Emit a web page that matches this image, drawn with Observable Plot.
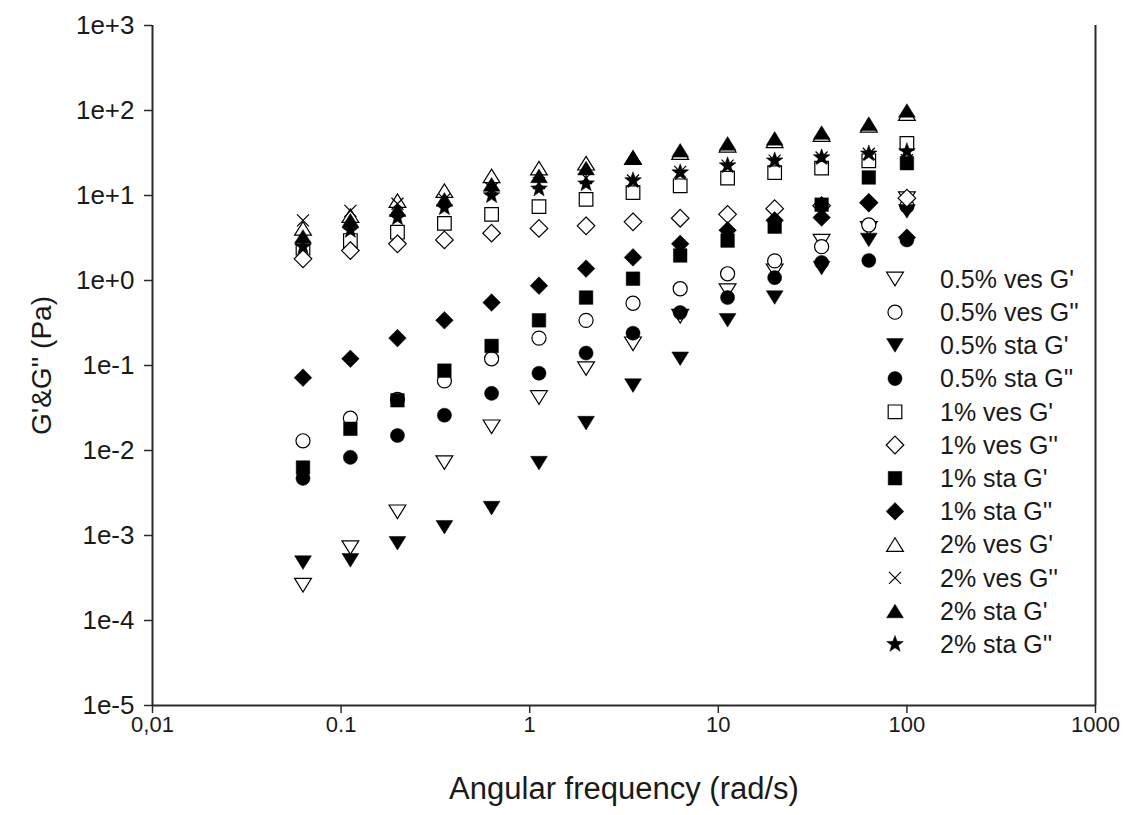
<!DOCTYPE html>
<html><head><meta charset="utf-8">
<script src="https://cdn.jsdelivr.net/npm/d3@7"></script>
<script src="https://cdn.jsdelivr.net/npm/@observablehq/plot@0.6"></script>
<style>
body{margin:0;background:#fff;}
#wrap{position:relative;width:1126px;height:815px;}
</style></head><body><div id="wrap"></div>
<script>
// ---- data ----
const freq = [0.0628, 0.112, 0.199, 0.353, 0.628, 1.12, 1.99, 3.53, 6.28, 11.2, 19.9, 35.3, 62.8, 100];
const seriesNames = ["0.5% ves G'", "0.5% ves G''", "0.5% sta G'", "0.5% sta G''", "1% ves G'", "1% ves G''", "1% sta G'", "1% sta G''", "2% ves G'", "2% ves G''", "2% sta G'", "2% sta G''"];
const ves05G1 = [2.6e-4, 7.2e-4, 1.9e-3, 7.2e-3, 0.019, 0.042, 0.092, 0.18, 0.38, 0.76, 1.3, 2.9, 4.1, 9.2];
const ves05G2 = [0.013, 0.024, 0.04, 0.066, 0.12, 0.21, 0.34, 0.54, 0.8, 1.2, 1.7, 2.5, 4.5, 7.5];
const sta05G1 = [4.8e-4, 5.1e-4, 8.1e-4, 1.25e-3, 2.1e-3, 7.1e-3, 0.021, 0.058, 0.12, 0.34, 0.63, 1.4, 3.0, 6.5];
const sta05G2 = [0.0047, 0.0083, 0.015, 0.026, 0.047, 0.081, 0.14, 0.24, 0.42, 0.63, 1.08, 1.63, 1.72, 3.0];
const ves1G1 = [2.4, 2.95, 3.7, 4.7, 6.0, 7.4, 9.0, 10.8, 13, 16, 18.6, 21, 25.6, 41];
const ves1G2 = [1.8, 2.25, 2.7, 3.0, 3.6, 4.1, 4.4, 4.9, 5.4, 6.0, 7.0, 7.6, 8.2, 9.3];
const sta1G1 = [0.0063, 0.018, 0.039, 0.087, 0.17, 0.34, 0.63, 1.05, 1.97, 2.95, 4.3, 7.8, 16.3, 24];
const sta1G2 = [0.072, 0.12, 0.21, 0.34, 0.55, 0.87, 1.38, 1.87, 2.7, 3.9, 5.1, 5.5, 8.3, 3.2];
const ves2G1 = [4.1, 5.8, 8.7, 11.4, 17, 21, 24, 28, 32, 39, 44, 52, 67, 92];
const ves2G2 = [5.1, 6.6, 8.0, 9, 12, 14, 16, 15, 19, 22.5, 25.7, 28, 31, 26];
const sta2G1 = [3.3, 5.1, 6.8, 9, 13.5, 17, 21, 28, 34, 41, 47, 55, 70, 100];
const sta2G2 = [2.5, 3.9, 5.5, 7.2, 10, 12, 13.8, 15, 18.6, 22.5, 25.7, 28, 31, 33];

const xTickValues = [0.01, 0.1, 1, 10, 100, 1000];
const xTickLabels = ["0,01", "0.1", "1", "10", "100", "1000"];
const yTickValues = [1e-5, 1e-4, 1e-3, 1e-2, 1e-1, 1e0, 1e1, 1e2, 1e3];
const yTickLabels = ["1e-5", "1e-4", "1e-3", "1e-2", "1e-1", "1e+0", "1e+1", "1e+2", "1e+3"];
const xTitle = "Angular frequency (rad/s)";
const yTitle = "G'&G'' (Pa)";

// ---- symbols ----
function mk(fn){ return {draw(ctx, size){ const r = Math.sqrt(size/Math.PI); fn(ctx, r); }}; }
const symTriDown = mk((c,r)=>{const w=1.05*r,h=0.85*r; c.moveTo(-w,-h); c.lineTo(w,-h); c.lineTo(0,h); c.closePath();});
const symTriUp = mk((c,r)=>{const w=1.05*r,h=0.85*r; c.moveTo(-w,h); c.lineTo(w,h); c.lineTo(0,-h); c.closePath();});
const symCircle = mk((c,r)=>{const a=0.88*r; c.moveTo(a,0); c.arc(0,0,a,0,2*Math.PI); c.closePath();});
const symSquare = mk((c,r)=>{const a=0.85*r; c.rect(-a,-a,2*a,2*a);});
const symDiamond = mk((c,r)=>{const a=1.1*r; c.moveTo(0,-a); c.lineTo(a,0); c.lineTo(0,a); c.lineTo(-a,0); c.closePath();});
const symTimes = mk((c,r)=>{const a=0.75*r; c.moveTo(-a,-a); c.lineTo(a,a); c.moveTo(a,-a); c.lineTo(-a,a);});
const symStar = mk((c,r)=>{const R1=1.1*r, R2=0.45*r; for(let i=0;i<10;i++){const rr=i%2?R2:R1; const a=-Math.PI/2+i*Math.PI/5; const px=rr*Math.cos(a), py=rr*Math.sin(a); if(i===0) c.moveTo(px,py); else c.lineTo(px,py);} c.closePath();});

const seriesValues = [ves05G1, ves05G2, sta05G1, sta05G2, ves1G1, ves1G2, sta1G1, sta1G2, ves2G1, ves2G2, sta2G1, sta2G2];
const seriesSymbols = [symTriDown, symCircle, symTriDown, symCircle, symSquare, symDiamond, symSquare, symDiamond, symTriUp, symTimes, symTriUp, symStar];
const seriesStyle = ["open","open","filled","filled","open","open","filled","filled","open","line","filled","filled"];

const R = 8;
function styleOf(k){
  if (k==="open") return {fill:"white", stroke:"black", strokeWidth:1.2};
  if (k==="filled") return {fill:"black", stroke:"black", strokeWidth:0.5};
  return {fill:"none", stroke:"black", strokeWidth:1.2};
}

const dotMarks = seriesValues.map((vals, si) => {
  const rows = freq.map((f, i) => ({x: f, y: vals[i], s: seriesNames[si]}));
  return Plot.dot(rows, {x:"x", y:"y", r:R, symbol: seriesSymbols[si], ...styleOf(seriesStyle[si])});
});

const xLab = new Map(xTickValues.map((v,i)=>[v, xTickLabels[i]]));
const yLab = new Map(yTickValues.map((v,i)=>[v, yTickLabels[i]]));
const axisColor = "#2a2a2a";
const textColor = "#1a1a1a";

const chart = Plot.plot({
  width:1126, height:815,
  marginLeft:152, marginRight:31, marginTop:25, marginBottom:110,
  x:{type:"log", domain:[0.01,1000]},
  y:{type:"log", domain:[1e-5,1e3]},
  style:{fontFamily:"'Liberation Sans', Arial, sans-serif", fontSize:"22px", color:textColor, background:"#fff", overflow:"visible"},
  marks:[
    Plot.axisX(xTickValues, {tickSize:8, tickPadding:3, tickFormat:d=>xLab.get(d), label:null, stroke:axisColor, strokeWidth:1.5, fill:textColor, fontSize:22}),
    Plot.axisY(yTickValues, {tickSize:8, tickPadding:10, tickFormat:d=>yLab.get(d), label:null, stroke:axisColor, strokeWidth:1.5, fill:textColor, fontSize:26}),
    Plot.ruleY([1e-5], {stroke:axisColor, strokeWidth:2}),
    Plot.ruleX([0.01, 1000], {stroke:axisColor, strokeWidth:2}),
    ...dotMarks,
    Plot.text([xTitle], {text:d=>d, frameAnchor:"bottom", dy:93, fontSize:31, fill:textColor, textAnchor:"middle"}),
    Plot.text([yTitle], {text:d=>d, frameAnchor:"left", dx:-110, rotate:-90, fontSize:28, fill:textColor, textAnchor:"middle"})
  ]
});
document.getElementById("wrap").appendChild(chart);

// ---- legend (drawn inside the plot's svg) ----
const svg = d3.select(chart.tagName.toLowerCase()==="svg" ? chart : chart.querySelector("svg"));
const lg = svg.append("g").attr("font-family","'Liberation Sans', Arial, sans-serif").attr("font-size",25).attr("text-anchor","start");
const legendX = 895, legendTextX = 940, legendY0 = 279, legendDy = 33.2;
seriesNames.forEach((name, i) => {
  const y = legendY0 + i*legendDy;
  const st = styleOf(seriesStyle[i]);
  lg.append("path")
    .attr("d", d3.symbol(seriesSymbols[i], R*R*Math.PI)())
    .attr("transform", `translate(${legendX},${y})`)
    .attr("fill", st.fill).attr("stroke", st.stroke).attr("stroke-width", st.strokeWidth);
  lg.append("text").attr("x", legendTextX).attr("y", y).attr("dy","0.35em").attr("fill",textColor).text(name);
});
</script>
</body></html>
